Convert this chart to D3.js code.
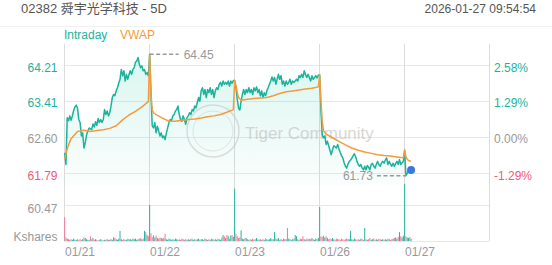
<!DOCTYPE html>
<html><head><meta charset="utf-8">
<script src="https://cdn.jsdelivr.net/npm/d3@7"></script>
<style>body{margin:0;background:#fff}svg{display:block;font-family:"Liberation Sans",Arial,"Noto Sans CJK SC",sans-serif}</style>
</head><body><svg id="c" width="552" height="265"></svg>
<script>
// ---------- data ----------
const title = "02382 舜宇光学科技 - 5D";
const timestamp = "2026-01-27  09:54:54";
const days = ["01/21", "01/22", "01/23", "01/26", "01/27"];
const slotsPerDay = 66;
const prevClose = 62.60;
const priceTicks = [64.21, 63.41, 62.60, 61.79];
const pctLabels = ["2.58%", "1.29%", "0.00%", "-1.29%"];
const volMaxLabel = 60.47;
const volUnit = "Kshares";

const price1 = [62.24,61.98,63.03,62.96,63.07,62.97,63.07,63.19,63.27,63.31,63.24,62.99,62.92,62.62,62.69,62.35,62.47,62.64,62.73,62.80,62.78,62.76,62.89,62.82,62.94,62.86,63.01,62.92,62.99,62.92,62.99,63.21,63.10,63.18,63.07,63.14,63.29,63.48,63.55,63.52,63.63,63.70,63.80,63.89,64.11,63.97,64.08,63.85,64.00,63.89,64.00,64.08,64.00,64.11,64.15,64.27,64.30,64.38,64.23,64.15,64.19,64.08,64.11,64.00,64.04,63.97];
const price2 = [64.45,63.60,62.85,62.80,62.92,62.69,62.84,62.73,62.62,62.69,62.58,62.62,62.54,62.69,62.80,62.92,62.99,62.97,63.07,63.10,63.18,63.21,63.29,63.10,62.99,62.95,63.07,62.99,62.88,63.03,63.07,63.14,63.10,63.21,63.18,63.29,63.25,63.37,63.48,63.40,63.63,63.70,63.55,63.66,63.48,63.66,63.59,63.70,63.55,63.66,63.48,63.63,63.70,63.66,63.78,63.82,63.74,63.85,63.78,63.82,63.78,63.85,63.74,63.85,63.80,63.86];
const price3 = [63.86,63.70,63.45,63.25,63.20,63.40,63.55,63.66,63.55,63.66,63.59,63.70,63.59,63.66,63.55,63.70,63.63,63.72,63.59,63.66,63.52,63.63,63.48,63.59,63.52,63.63,63.70,63.78,63.85,63.94,63.85,63.93,63.78,63.89,64.00,63.89,63.97,63.78,63.85,63.74,63.85,63.78,63.82,63.89,63.78,63.85,63.82,63.85,63.89,63.85,63.97,63.93,64.00,63.93,64.08,64.00,63.93,64.00,63.93,63.85,63.97,63.89,63.93,63.97,63.92,63.98];
const price4 = [63.99,63.20,62.65,62.58,62.62,62.43,62.50,62.40,62.30,62.20,62.31,62.40,62.38,62.35,62.43,62.33,62.25,62.18,62.13,62.02,61.94,61.90,61.99,62.05,62.08,62.12,62.18,62.22,62.15,62.05,61.98,61.94,61.98,61.90,61.86,61.94,61.86,61.96,61.92,61.86,61.98,62.01,61.94,61.90,61.98,62.05,61.98,61.94,62.01,62.05,62.01,62.08,62.13,61.98,62.05,61.99,61.94,62.01,61.94,62.00,62.05,61.98,62.09,61.98,62.02,62.05];
const price5 = [62.30,61.73,61.78,61.85,61.80,61.86];

const vwapSlots = [0,1,2,3,5,10,15,20,25,30,35,40,45,50,55,60,65];
const vwap1 = [62.10,62.22,62.33,62.42,62.56,62.72,62.75,62.72,62.74,62.76,62.79,62.85,62.98,63.09,63.17,63.27,63.39];
const vwap2 = [64.45,63.60,63.20,63.14,63.10,63.02,62.95,62.95,62.97,62.99,63.00,63.02,63.05,63.07,63.10,63.15,63.21];
const vwap3 = [63.86,63.75,63.60,63.48,63.42,63.44,63.46,63.47,63.48,63.52,63.57,63.61,63.63,63.65,63.67,63.69,63.72];
const vwap4 = [63.99,63.40,62.95,62.74,62.66,62.58,62.50,62.42,62.35,62.30,62.26,62.23,62.20,62.18,62.17,62.15,62.13];
const vwap5 = [62.30,62.15,62.10,62.07,62.05];

const vol1 = [40,6,4,3,2,3,2,4,2,2,3,2,3,2,3,6,5,3,2,2,8,3,5,2,3,2,1,2,3,2,1,2,2,3,2,2,3,2,6,5,3,2,4,17,3,2,3,2,2,4,3,3,2,4,3,4,2,3,4,5,3,4,17,15,10,8];
const vol2 = [60.47,13,7,10,6,9,5,4,6,5,4,5,12,3,2,4,3,2,3,2,4,3,2,3,2,4,3,2,3,2,3,2,4,3,2,3,2,3,4,2,3,3,2,4,3,2,3,2,4,3,2,3,2,4,3,2,6,10,8,5,10,8,4,9,10,7];
const vol3 = [88,12,8,5,6,18,4,3,5,5,3,2,3,2,4,2,3,5,3,2,3,2,3,2,4,3,2,3,5,3,3,15,4,3,5,2,3,2,4,3,3,22,4,3,2,3,4,10,8,3,2,4,3,8,3,2,4,3,4,3,5,3,2,4,3,5];
const vol4 = [57,8,7,9,6,8,5,3,4,3,5,3,2,4,3,3,2,4,3,2,3,4,3,3,17,3,2,4,3,2,3,2,4,3,2,22,3,2,3,5,2,3,4,2,3,2,4,3,2,3,2,3,2,4,3,2,3,4,5,6,4,7,15,8,6,9];
const vol5 = [96,8,6,5,7,4];

// ---------- build ----------
const priceDays = [price1, price2, price3, price4, price5];
const vwapDays = [vwap1, vwap2, vwap3, vwap4, vwap5];
const volDays = [vol1, vol2, vol3, vol4, vol5];

const pts = priceDays.flatMap((arr, d) => arr.map((p, i) => ({t: d * slotsPerDay + i, p, v: volDays[d][i]})));
pts.forEach((o, k) => { o.up = k === 0 ? o.p >= prevClose : o.p >= pts[k - 1].p; });
const vwapPts = vwapDays.flatMap((arr, d) => arr.map((p, j) => ({t: d * slotsPerDay + vwapSlots[j], p})));

const teal = "#1bb39b", red = "#ee5a78", orange = "#f39b3e", grey = "#999", gridC = "#e8e8e8";
const svg = d3.select("#c");
const plotL = 64, plotR = 489;
const x = d3.scaleLinear().domain([0, days.length * slotsPerDay]).range([plotL, plotR]);
const y = d3.scaleLinear().domain([d3.min(priceTicks), d3.max(priceTicks)]).range([173, 65]);
const yv = d3.scaleLinear().domain([0, volMaxLabel]).range([241, 205]);
const cx = d => x(d.t + 0.5);

// header
svg.append("text").attr("x", 21).attr("y", 13).attr("font-size", 13).attr("fill", "#555").text(title);
svg.append("text").attr("x", 536).attr("y", 13).attr("font-size", 12).attr("fill", "#555").attr("text-anchor", "end").text(timestamp);
svg.append("line").attr("x1", 0).attr("x2", 552).attr("y1", 26.5).attr("y2", 26.5).attr("stroke", "#f0f0f0");
svg.append("text").attr("x", plotL).attr("y", 39).attr("font-size", 12).attr("fill", teal).text("Intraday");
svg.append("text").attr("x", 120).attr("y", 39).attr("font-size", 12).attr("fill", orange).text("VWAP");

// grid
const grid = svg.append("g").attr("shape-rendering", "crispEdges");
grid.selectAll(".h").data(priceTicks).join("line")
  .attr("x1", plotL).attr("x2", plotR).attr("y1", d => Math.round(y(d)) + 0.5).attr("y2", d => Math.round(y(d)) + 0.5)
  .attr("stroke", gridC);
[volMaxLabel, 0].forEach(v => grid.append("line").attr("x1", plotL).attr("x2", plotR)
  .attr("y1", Math.round(yv(v)) + 0.5).attr("y2", Math.round(yv(v)) + 0.5).attr("stroke", gridC));
grid.selectAll(".v").data(d3.range(days.length + 1)).join("line")
  .attr("x1", d => Math.round(x(d * slotsPerDay)) + 0.5).attr("x2", d => Math.round(x(d * slotsPerDay)) + 0.5)
  .attr("y1", 44).attr("y2", 241).attr("stroke", "#dcdcdc");

// axis labels
const tickColor = v => v > prevClose + 0.001 ? teal : (v < prevClose - 0.001 ? red : grey);
svg.selectAll(".lt").data(priceTicks).join("text")
  .attr("x", 57.5).attr("y", d => y(d) + 6.5).attr("text-anchor", "end").attr("font-size", 12)
  .attr("fill", tickColor).text(d => d.toFixed(2));
svg.selectAll(".rt").data(priceTicks).join("text")
  .attr("x", 494).attr("y", d => y(d) + 6.5).attr("font-size", 12)
  .attr("fill", tickColor).text((d, i) => pctLabels[i]);
svg.append("text").attr("x", 57.5).attr("y", yv(volMaxLabel) + 7.5).attr("text-anchor", "end")
  .attr("font-size", 12).attr("fill", grey).text(volMaxLabel.toFixed(2));
svg.append("text").attr("x", 57.5).attr("y", yv(0) - 0.5).attr("text-anchor", "end")
  .attr("font-size", 12).attr("fill", grey).text(volUnit);
svg.selectAll(".dt").data(days).join("text")
  .attr("x", (d, i) => x(i * slotsPerDay) + 1).attr("y", 256).attr("font-size", 12)
  .attr("fill", grey).text(d => d);

// gradient fill
const defs = svg.append("defs");
const lg = defs.append("linearGradient").attr("id", "g").attr("gradientUnits", "userSpaceOnUse")
  .attr("x1", 0).attr("x2", 0).attr("y1", 55).attr("y2", 185);
lg.append("stop").attr("offset", 0).attr("stop-color", "#1bc79b").attr("stop-opacity", 0.16);
lg.append("stop").attr("offset", 1).attr("stop-color", "#1bc79b").attr("stop-opacity", 0.02);
svg.append("path").datum(pts).attr("fill", "url(#g)")
  .attr("d", d3.area().x(cx).y0(185).y1(d => y(d.p)));

// volume
svg.append("g").selectAll("rect").data(pts).join("rect")
  .attr("x", d => cx(d) - 0.5).attr("width", 1)
  .attr("y", d => yv(d.v)).attr("height", d => yv(0) - yv(d.v))
  .attr("fill", d => d.up ? "#26b49e" : "#f07a93");

// watermark
const wm = svg.append("g").attr("opacity", 0.55);
wm.append("circle").attr("cx", 213).attr("cy", 131).attr("r", 26).attr("fill", "none").attr("stroke", "#c4c4c4").attr("stroke-width", 1.5);
wm.append("circle").attr("cx", 213).attr("cy", 131).attr("r", 20).attr("fill", "none").attr("stroke", "#d0d0d0").attr("stroke-width", 1);
wm.append("text").attr("x", 245).attr("y", 139).attr("font-size", 17).attr("fill", "#b8b8b8").text("Tiger Community");

// lines
svg.append("path").datum(pts).attr("fill", "none").attr("stroke", teal).attr("stroke-width", 1.5)
  .attr("stroke-linejoin", "round").attr("d", d3.line().x(cx).y(d => y(d.p)));
svg.append("path").datum(vwapPts).attr("fill", "none").attr("stroke", orange).attr("stroke-width", 1.5)
  .attr("stroke-linejoin", "round").attr("d", d3.line().x(cx).y(d => y(d.p)));

// max / min markers
const maxPt = d3.greatest(pts, d => d.p), minPt = d3.least(pts, d => d.p);
svg.append("line").attr("x1", cx(maxPt)).attr("x2", cx(maxPt) + 29).attr("y1", y(maxPt.p)).attr("y2", y(maxPt.p))
  .attr("stroke", "#999").attr("stroke-width", 1.5).attr("stroke-dasharray", "4,2.5");
svg.append("text").attr("x", cx(maxPt) + 34).attr("y", y(maxPt.p) + 4.5).attr("font-size", 12).attr("fill", grey).text(maxPt.p.toFixed(2));
svg.append("line").attr("x1", cx(minPt) - 29).attr("x2", cx(minPt)).attr("y1", y(minPt.p)).attr("y2", y(minPt.p))
  .attr("stroke", "#999").attr("stroke-width", 1.5).attr("stroke-dasharray", "4,2.5");
svg.append("text").attr("x", cx(minPt) - 33).attr("y", y(minPt.p) + 4.5).attr("text-anchor", "end").attr("font-size", 12).attr("fill", grey).text(minPt.p.toFixed(2));

// last point
const last = pts[pts.length - 1];
svg.append("circle").attr("cx", cx(last)).attr("cy", y(last.p)).attr("r", 4).attr("fill", "#3a78e0");
</script></body></html>
